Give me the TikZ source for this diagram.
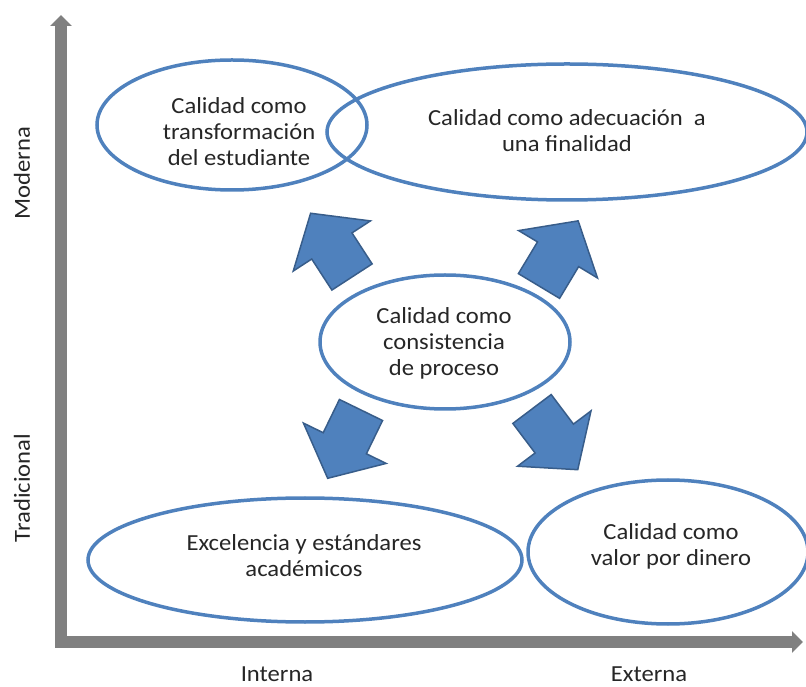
\documentclass[tikz,border=0pt]{standalone}
\usepackage{fontspec}
\setmainfont{Carlito}[FakeStretch=1.07]
\usetikzlibrary{arrows.meta,shapes.geometric}
\definecolor{ovalblue}{HTML}{4F81BD}
\definecolor{arrowedge}{HTML}{385D8A}
\definecolor{axisgray}{HTML}{808080}
\definecolor{txtgray}{HTML}{262626}
\tikzset{
  oval/.style={draw=ovalblue,line width=3.5pt,ellipse,inner sep=0pt},
  txt/.style={align=center,text=txtgray,font=\fontsize{23}{26}\selectfont},
  axis/.style={draw=axisgray,line width=12pt,line join=miter},
  blockarrow/.style={fill=ovalblue,draw=arrowedge,line width=1.5pt,line join=miter}
}
\begin{document}
\begin{tikzpicture}[x=1pt,y=1pt]
\useasboundingbox (0,0) rectangle (806,686);
\coordinate (origin) at (61,44);
\coordinate (ytip)   at (61,671);
\coordinate (xtip)   at (803,44);
\draw[axis,{Triangle[width=21pt,length=11pt]}-{Triangle[width=21pt,length=11pt]}]
    (ytip) -- (origin) -- (xtip);
\path
    ( 22,513) node [txt,rotate=90] (moderna)     {Moderna}
    ( 22,198) node [txt,rotate=90] (tradicional) {Tradicional}
    (277,  5) node [txt,anchor=base] (interna)   {Interna}
    (649,  5) node [txt,anchor=base] (externa)   {Externa};
\foreach \x/\y/\a in {352/409/123, 539/400/59, 361/276/244, 532/277/307}
  \draw[blockarrow,shift={(\x,\y)},rotate=\a]
    (0,-24) -- (37,-24) -- (37,-46) -- (76,0) -- (37,46) -- (37,24) -- (0,24) -- cycle;
\path
    (232,561) node [oval,minimum width=270pt,minimum height=130pt] (transf)  {}
    (567,554) node [oval,minimum width=480pt,minimum height=136pt] (adecua)  {}
    (445,344) node [oval,minimum width=250pt,minimum height=134pt] (consist) {}
    (305,126) node [oval,minimum width=434pt,minimum height=124pt] (excel)   {}
    (668,134) node [oval,minimum width=280pt,minimum height=144pt] (valor)   {};
\path
    (239,554) node [txt] (transftxt)  {Calidad como\\transformación\\del estudiante}
    (567,555) node [txt] (adecuatxt)  {Calidad como adecuación\ \ a\\una finalidad}
    (444,343) node [txt] (consisttxt) {Calidad como\\consistencia\\de proceso}
    (304,130) node [txt] (exceltxt)   {Excelencia y estándares\\académicos}
    (671,140) node [txt] (valortxt)   {Calidad como\\valor por dinero};
\end{tikzpicture}
\end{document}
